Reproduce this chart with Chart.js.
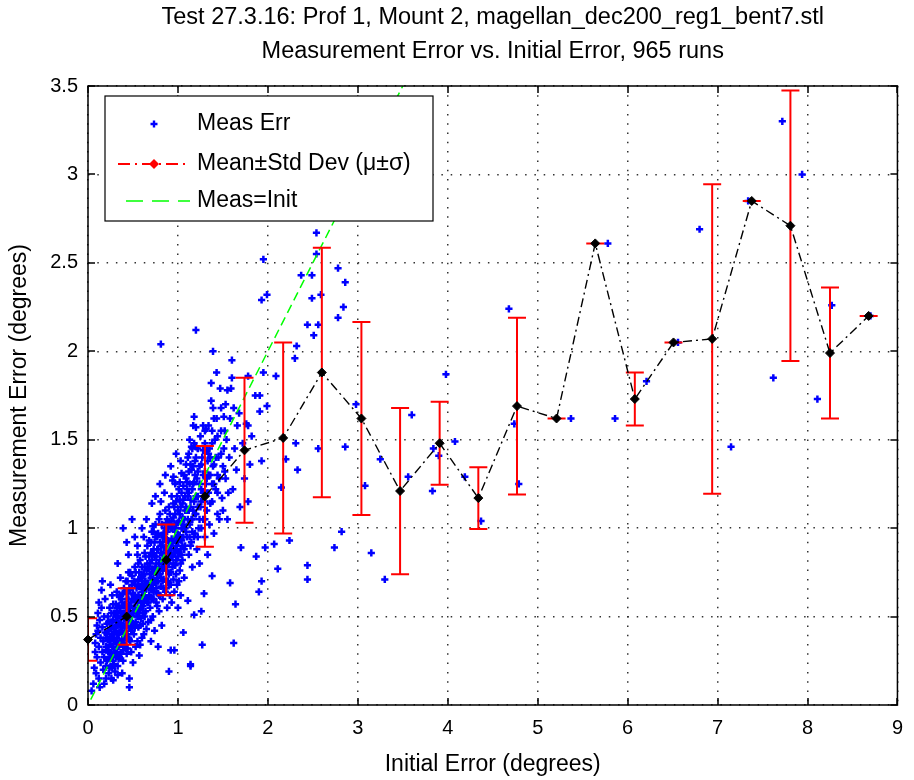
<!DOCTYPE html>
<html>
<head>
<meta charset="utf-8">
<script src="https://cdn.jsdelivr.net/npm/chart.js@4.4.0/dist/chart.umd.min.js"></script>
<style>
  html, body { margin: 0; padding: 0; background: #fff; }
  #wrap { width: 914px; height: 780px; }
</style>
</head>
<body>
<div id="wrap"><canvas id="errChart" width="914" height="780"></canvas></div>
<script>
const titleLines = [
    'Test 27.3.16: Prof 1, Mount 2, magellan_dec200_reg1_bent7.stl',
    'Measurement Error vs. Initial Error, 965 runs',
];
const xTitle = 'Initial Error (degrees)';
const yTitle = 'Measurement Error (degrees)';
const xTicks = [0, 1, 2, 3, 4, 5, 6, 7, 8, 9];
const yTicks = [0, 0.5, 1, 1.5, 2, 2.5, 3, 3.5];
const legendLabels = ['Meas Err', 'Mean\u00b1Std Dev (\u03bc\u00b1\u03c3)', 'Meas=Init'];

// binned statistics (bin centres, mean and one std dev of measurement error)
const binX = [0.00, 0.43, 0.87, 1.30, 1.74, 2.17, 2.60, 3.04, 3.47, 3.91, 4.34, 4.77, 5.21, 5.64, 6.08, 6.51, 6.94, 7.38, 7.81, 8.25, 8.68];
const meanY = [0.37, 0.50, 0.82, 1.18, 1.44, 1.51, 1.88, 1.62, 1.21, 1.48, 1.17, 1.69, 1.62, 2.61, 1.73, 2.05, 2.07, 2.85, 2.71, 1.99, 2.20];
const stdY = [0.12, 0.16, 0.20, 0.285, 0.41, 0.54, 0.705, 0.545, 0.47, 0.235, 0.175, 0.50, 0, 0, 0.15, 0, 0.875, 0, 0.765, 0.37, 0];

// y = x reference
const refLine = [0.03, 3.6];

// individual runs [initial, measured], dense part near the diagonal
const cloudPts = [
    [0.04,0.08],[0.06,0.12],[0.07,0.21],[0.08,0.30],[0.08,0.35],[0.09,0.18],[0.10,0.27],[0.11,0.42],[0.12,0.15],[0.12,0.33],
    [0.13,0.48],[0.14,0.24],[0.14,0.38],[0.15,0.55],[0.16,0.30],[0.16,0.44],[0.17,0.20],[0.17,0.36],[0.18,0.50],[0.18,0.27],
    [0.19,0.41],[0.19,0.60],[0.20,0.15],[0.20,0.33],[0.21,0.46],[0.21,0.25],[0.09,0.40],[0.11,0.52],[0.13,0.10],[0.15,0.65],
    [0.20,0.38],[0.10,0.45],[0.12,0.58],[0.18,0.12],[0.16,0.70],
    [0.22,0.31],[0.23,0.18],[0.23,0.42],[0.24,0.27],[0.24,0.55],[0.25,0.36],[0.25,0.22],[0.26,0.15],[0.26,0.47],[0.27,0.33],
    [0.27,0.62],[0.28,0.25],[0.28,0.40],[0.29,0.52],[0.29,0.30],[0.30,0.19],[0.30,0.44],[0.30,0.36],[0.22,0.50],[0.24,0.38],
    [0.26,0.29],[0.28,0.57],[0.25,0.68],[0.27,0.21],[0.29,0.41],
    [0.31,0.28],[0.31,0.50],[0.32,0.38],[0.32,0.64],[0.33,0.22],[0.33,0.45],[0.34,0.33],[0.34,0.56],[0.35,0.41],[0.35,0.27],
    [0.36,0.49],[0.36,0.72],[0.37,0.36],[0.37,0.60],[0.38,0.18],[0.38,0.44],[0.39,0.52],[0.39,0.31],[0.40,0.40],[0.40,0.66],
    [0.32,0.47],[0.34,0.40],[0.36,0.35],[0.38,0.58],[0.33,0.80],[0.35,0.53],[0.37,0.46],[0.39,0.25],[0.31,0.36],[0.40,0.49],
    [0.41,0.34],[0.41,0.57],[0.42,0.46],[0.42,0.70],[0.43,0.29],[0.43,0.52],[0.44,0.40],[0.44,0.63],[0.45,0.48],[0.45,0.85],
    [0.46,0.10],[0.46,0.15],[0.46,0.37],[0.46,0.56],[0.47,0.44],[0.47,0.75],[0.48,0.51],[0.48,0.30],[0.49,0.60],[0.49,0.42],
    [0.50,0.53],[0.50,0.24],[0.42,0.38],[0.44,0.55],[0.45,0.60],[0.47,0.65],[0.48,0.47],[0.43,0.92],[0.49,0.68],[0.41,0.50],
    [0.44,0.32],[0.50,0.45],[0.39,1.00],[0.49,1.05],[0.52,0.95],
    [0.51,0.62],[0.51,0.40],[0.52,0.55],[0.52,0.78],[0.53,0.47],[0.53,0.33],[0.54,0.66],[0.54,0.52],[0.55,0.58],[0.55,0.90],
    [0.56,0.44],[0.56,0.71],[0.57,0.61],[0.57,0.28],[0.58,0.54],[0.58,0.82],[0.59,0.67],[0.59,0.49],[0.60,0.60],[0.60,0.38],
    [0.61,0.73],[0.61,0.56],[0.62,0.64],[0.62,0.95],[0.63,0.50],[0.63,0.70],[0.64,0.59],[0.64,0.84],[0.65,0.66],[0.65,0.43],
    [0.52,0.68],[0.55,0.36],[0.57,0.75],[0.59,0.58],[0.61,0.46],[0.63,0.78],[0.53,0.60],[0.56,0.52],[0.60,0.70],[0.62,0.52],
    [0.66,0.58],[0.66,0.80],[0.67,0.69],[0.67,0.47],[0.68,0.62],[0.68,0.93],[0.69,0.74],[0.69,0.55],[0.70,0.66],[0.70,0.36],
    [0.71,0.82],[0.71,1.14],[0.71,0.60],[0.72,0.71],[0.72,0.50],[0.73,0.88],[0.73,0.64],[0.74,0.77],[0.74,0.42],[0.75,0.69],
    [0.75,1.02],[0.76,0.58],[0.76,0.84],[0.77,0.72],[0.77,0.95],[0.78,0.63],[0.78,0.33],[0.79,0.80],[0.79,0.53],[0.80,0.74],
    [0.80,1.08],[0.81,0.67],[0.81,0.90],[0.82,0.78],[0.82,0.45],[0.83,0.85],[0.83,0.60],[0.84,0.97],[0.84,0.71],[0.85,0.82],
    [0.85,1.20],[0.86,0.64],[0.86,0.89],[0.87,0.76],[0.87,1.03],[0.88,0.55],[0.88,0.84],[0.89,0.93],[0.89,0.70],[0.90,0.19],
    [0.90,0.80],[0.90,1.12],[0.91,0.62],[0.91,0.88],[0.92,0.31],[0.92,0.75],[0.92,1.00],[0.93,0.84],[0.93,0.58],[0.94,1.27],
    [0.94,0.92],[0.95,0.71],[0.95,1.06],[0.96,0.31],[0.96,0.86],[0.96,0.64],[0.97,0.98],[0.97,0.79],[0.98,1.15],[0.98,0.90],
    [0.99,0.68],[0.98,1.42],[1.00,0.84],[1.00,1.03],[1.00,0.55],[1.01,0.94],[1.01,1.22],[1.02,0.76],[1.02,1.08],[1.03,0.88],
    [1.03,0.62],[1.04,1.00],[1.04,1.31],[1.05,0.82],[1.05,1.14],[1.06,0.41],[1.06,0.95],[1.07,1.05],[1.07,0.72],[1.08,1.18],
    [1.08,0.90],[0.68,0.77],[0.70,0.86],[0.72,0.60],[0.74,0.92],[0.76,0.70],[0.78,0.88],[0.80,0.62],[0.82,0.96],[0.84,0.80],
    [0.86,1.10],[0.88,0.98],[0.90,0.68],[0.92,0.90],[0.94,0.78],[0.96,1.12],[0.98,0.74],[1.00,0.96],[1.02,1.16],[1.04,0.85],
    [1.06,1.24],[0.73,0.98],[0.79,1.05],[0.85,0.95],[0.91,1.02],[0.97,1.25],[1.03,1.38],[0.83,0.70],[0.89,0.82],[0.95,0.88],
    [1.01,0.70],[0.71,0.98],[0.77,0.56],[0.81,1.15],[0.87,0.66],[0.93,1.18],[0.99,0.95],[1.05,1.00],[0.72,1.01],[0.92,1.35],
    [0.95,1.29],
    [1.09,0.98],[1.09,1.28],[1.10,1.10],[1.11,0.59],[1.11,1.40],[1.12,0.85],[1.12,1.20],[1.13,1.02],[1.13,1.50],[1.14,0.22],
    [1.14,1.12],[1.15,0.92],[1.15,1.33],[1.16,1.05],[1.16,0.78],[1.17,1.25],[1.17,1.58],[1.18,0.51],[1.18,1.15],[1.18,1.63],
    [1.19,0.97],[1.19,1.38],[1.20,1.57],[1.20,1.08],[1.20,2.12],[1.21,1.28],[1.21,0.88],[1.22,1.45],[1.22,1.18],[1.23,1.00],
    [1.24,1.35],[1.24,0.80],[1.25,1.12],[1.25,1.52],[1.26,0.53],[1.26,1.22],[1.27,0.34],[1.27,1.40],[1.28,1.05],[1.28,1.30],
    [1.29,0.63],[1.29,1.18],[1.30,1.48],[1.30,0.95],[1.31,1.56],[1.31,1.25],[1.32,1.10],[1.33,1.38],[1.33,0.85],[1.34,1.20],
    [1.35,1.45],[1.35,1.02],[1.36,1.30],[1.38,0.73],[1.37,1.72],[1.37,1.82],[1.38,1.15],[1.39,1.68],[1.39,2.00],[1.39,1.35],
    [1.40,0.97],[1.41,1.50],[1.42,1.22],[1.43,1.62],[1.43,1.88],[1.44,1.08],[1.45,1.40],[1.46,1.28],[1.47,1.79],[1.48,1.55],
    [1.49,1.17],[1.50,1.35],[1.51,1.63],[1.51,1.45],[1.12,1.32],[1.16,1.45],[1.22,0.95],[1.28,1.58],[1.34,1.42],[1.40,1.25],
    [1.46,1.05],[1.14,0.90],[1.20,1.40],[1.26,1.00],[1.32,1.28],[1.38,1.55],[1.44,1.30],[1.50,1.10],[1.10,1.22],[1.18,0.95],
    [1.30,1.15],[1.42,1.40],[1.30,1.55],[1.14,0.23],[0.81,2.04],
];

// core of the band, where the runs overlap most
const corePts = [
    [0.20,0.22],[0.20,0.31],[0.21,0.40],[0.22,0.26],[0.22,0.37],[0.23,0.30],[0.23,0.47],[0.24,0.21],[0.24,0.34],[0.25,0.29],
    [0.25,0.43],[0.26,0.38],[0.26,0.52],[0.27,0.27],[0.27,0.45],[0.28,0.33],[0.28,0.48],[0.29,0.23],[0.29,0.37],[0.30,0.30],
    [0.30,0.52],[0.31,0.42],[0.31,0.57],[0.32,0.30],[0.32,0.55],[0.33,0.36],[0.33,0.50],[0.34,0.26],[0.34,0.46],[0.35,0.34],
    [0.35,0.61],[0.36,0.42],[0.36,0.55],[0.37,0.29],[0.37,0.52],[0.38,0.37],[0.38,0.50],[0.39,0.45],[0.39,0.63],[0.40,0.33],
    [0.40,0.56],[0.41,0.42],[0.41,0.64],[0.42,0.53],[0.42,0.32],[0.43,0.45],[0.43,0.60],[0.44,0.48],[0.44,0.70],[0.45,0.38],
    [0.45,0.55],[0.46,0.44],[0.46,0.66],[0.47,0.53],[0.47,0.36],[0.48,0.58],[0.48,0.42],[0.49,0.50],[0.49,0.73],[0.50,0.46],
    [0.50,0.63],[0.51,0.55],[0.51,0.70],[0.52,0.44],[0.52,0.62],[0.53,0.53],[0.53,0.75],[0.54,0.45],[0.54,0.59],[0.55,0.50],
    [0.55,0.68],[0.56,0.62],[0.56,0.80],[0.57,0.50],[0.57,0.67],[0.58,0.60],[0.58,0.45],[0.59,0.72],[0.59,0.55],[0.60,0.64],
    [0.60,0.78],[0.61,0.52],[0.61,0.67],[0.62,0.58],[0.62,0.74],[0.63,0.62],[0.63,0.86],[0.64,0.53],[0.64,0.70],[0.65,0.60],
    [0.65,0.76],[0.66,0.68],[0.66,0.90],[0.67,0.58],[0.67,0.77],[0.68,0.66],[0.68,0.84],[0.69,0.61],[0.69,0.80],[0.70,0.72],
    [0.70,0.92],[0.71,0.65],[0.71,0.77],[0.72,0.68],[0.72,0.86],[0.73,0.75],[0.73,0.60],[0.74,0.70],[0.74,0.84],[0.75,0.78],
    [0.75,0.95],[0.76,0.66],[0.76,0.80],[0.77,0.74],[0.77,0.88],[0.78,0.70],[0.78,0.97],[0.79,0.76],[0.79,0.62],[0.80,0.82],
    [0.80,0.92],[0.81,0.72],[0.81,0.86],[0.82,0.80],[0.82,1.02],[0.83,0.76],[0.83,0.92],[0.84,0.66],[0.84,0.86],[0.85,0.78],
    [0.85,1.00],[0.86,0.82],[0.86,0.94],[0.87,0.70],[0.87,0.88],[0.88,0.78],[0.88,1.05],[0.89,0.86],[0.89,1.00],[0.90,0.74],
    [0.90,0.92],[0.91,0.82],[0.91,1.08],[0.92,0.86],[0.92,0.68],[0.93,0.94],[0.93,1.04],[0.94,0.84],[0.94,1.00],[0.95,0.80],
    [0.95,1.14],[0.96,0.93],[0.96,1.02],[0.97,0.86],[0.97,1.08],[0.98,0.82],[0.98,1.00],[0.99,0.88],[0.99,1.18],[1.00,0.92],
    [1.00,1.10],[1.01,0.86],[1.01,1.04],[1.02,0.96],[1.02,1.26],[1.03,0.80],[1.03,1.12],[1.04,0.93],[1.04,1.20],[1.05,0.90],
    [1.05,1.06],[1.06,1.02],[1.06,1.16],[1.07,0.88],[1.07,1.30],[1.08,1.00],[1.08,1.10],[1.09,1.12],[1.09,1.36],[1.10,0.95],
    [1.10,1.26],[1.11,1.05],[1.11,1.18],[1.12,1.10],[1.12,1.42],[1.13,0.95],[1.13,1.25],[1.14,1.16],[1.14,1.36],[1.15,1.05],
    [1.15,1.46],[1.16,1.22],[1.16,0.98],[1.17,1.10],[1.17,1.35],[1.18,1.26],[1.18,1.48],[1.19,1.08],[1.19,1.30],[1.20,1.18],
    [1.20,1.46],[1.22,1.12],[1.22,1.32],[1.24,1.25],[1.24,1.05],[1.26,1.36],[1.26,1.15],[1.28,1.20],[1.28,1.44],[1.30,1.32],
    [1.30,1.05],[1.32,1.44],[1.32,1.20],[1.34,1.30],[1.34,1.58],[1.36,1.14],[1.36,1.40],[1.38,1.48],[1.38,1.25],[1.40,1.62],
    [1.40,1.36],[1.44,1.52],[1.44,1.20],[1.48,1.42],[1.48,1.68],[1.52,1.55],[1.52,1.32],[0.60,1.00],[0.65,1.05],[0.75,1.18],
    [0.80,1.25],[0.86,1.30],[0.55,0.85],[0.45,0.75],[0.35,0.62],[0.62,0.40],[0.70,0.48],[0.58,0.34],[0.28,0.14],[0.33,0.17],
];

// sparser runs further out
const outlierPts = [
    [1.53,1.28],[1.54,1.50],[1.55,1.05],[1.57,1.40],[1.58,1.62],[1.61,1.22],[1.63,1.45],[1.65,1.33],[1.66,1.58],[1.69,1.12],
    [1.72,1.48],[1.74,1.28],[1.53,1.70],[1.56,1.20],[1.62,1.68],
    [1.55,1.78],[1.59,1.79],[1.60,1.95],[1.60,1.85],[1.76,1.59],[1.82,1.52],[1.86,1.75],[1.78,1.86],[1.91,1.75],[1.68,1.65],
    [1.91,1.66],[1.78,1.58],[1.93,1.38],[1.80,1.36],[1.78,1.15],[1.70,0.89],[1.87,0.84],[1.58,0.69],[1.64,0.57],[1.62,0.35],
    [1.93,0.70],[1.90,0.64],[1.93,2.29],[1.95,2.52],[1.95,1.88],
    [1.97,0.89],[1.99,1.69],[1.99,2.32],[2.07,0.91],[2.09,1.86],[2.11,0.77],[2.15,1.23],[2.20,1.39],[2.24,0.93],[2.30,1.96],
    [2.31,1.48],[2.32,2.03],[2.33,1.33],[2.37,2.43],
    [2.44,2.15],[2.44,0.71],[2.44,0.79],[2.49,2.43],[2.49,2.30],[2.51,2.09],[2.54,2.67],[2.54,2.55],[2.56,2.15],[2.56,1.45],
    [2.59,2.32],[2.74,0.89],[2.78,2.47],[2.78,2.19],
    [2.82,0.98],[2.84,2.25],[2.86,2.39],[2.86,1.46],[2.98,1.70],[3.08,1.24],[3.15,0.86],[3.25,1.39],
    [3.30,0.71],[3.56,1.29],[3.60,1.64],
    [3.83,1.21],[3.84,1.45],[3.90,1.41],[3.98,1.87],[4.08,1.49],
    [4.19,1.29],[4.37,1.04],
    [4.68,2.24],[4.74,1.59],[4.79,1.25],
    [5.37,1.62],[5.78,2.61],[5.86,1.62],[6.21,1.83],[6.56,2.05],[6.80,2.69],[7.15,1.46],[7.34,2.85],
    [7.62,1.85],[7.72,3.30],[7.94,3.00],[8.11,1.73],[8.27,2.26],[8.70,2.20],
];

const FONT = 'Liberation Sans, Arial, Helvetica, sans-serif';
const TICK_LEN = 7;
const ERR_CAP = 9;

Chart.defaults.font.family = FONT;
Chart.defaults.color = '#000';

// red error bars under the mean line, clipped to the axes
const errorBars = {
    id: 'errorBars',
    beforeDatasetDraw(chart, args) {
        if (args.index !== 1) return;
        const { ctx, chartArea: a, scales: { x, y } } = chart;
        ctx.save();
        ctx.beginPath();
        ctx.rect(a.left, a.top, a.width, a.height);
        ctx.clip();
        ctx.strokeStyle = '#ff0000';
        ctx.lineWidth = 2;
        binX.forEach((bx, i) => {
            const px = x.getPixelForValue(bx);
            const top = y.getPixelForValue(meanY[i] + stdY[i]);
            const bot = y.getPixelForValue(meanY[i] - stdY[i]);
            ctx.beginPath();
            ctx.moveTo(px, top); ctx.lineTo(px, bot);
            ctx.moveTo(px - ERR_CAP, top); ctx.lineTo(px + ERR_CAP, top);
            ctx.moveTo(px - ERR_CAP, bot); ctx.lineTo(px + ERR_CAP, bot);
            ctx.stroke();
        });
        ctx.restore();
    },
};

// box round the plot with inward ticks on all four sides
const axesBox = {
    id: 'axesBox',
    afterDatasetsDraw(chart) {
        const { ctx, chartArea: a, scales: { x, y } } = chart;
        ctx.save();
        ctx.strokeStyle = '#000';
        ctx.lineWidth = 1.5;
        ctx.strokeRect(a.left, a.top, a.width, a.height);
        ctx.beginPath();
        x.ticks.forEach(t => {
            const px = Math.round(x.getPixelForValue(t.value));
            ctx.moveTo(px, a.bottom); ctx.lineTo(px, a.bottom - TICK_LEN);
            ctx.moveTo(px, a.top); ctx.lineTo(px, a.top + TICK_LEN);
        });
        y.ticks.forEach(t => {
            const py = Math.round(y.getPixelForValue(t.value));
            ctx.moveTo(a.left, py); ctx.lineTo(a.left + TICK_LEN, py);
            ctx.moveTo(a.right, py); ctx.lineTo(a.right - TICK_LEN, py);
        });
        ctx.stroke();
        ctx.restore();
    },
};

// legend box in the upper left corner of the axes
const plotLegend = {
    id: 'plotLegend',
    afterDraw(chart) {
        const { ctx, chartArea: a } = chart;
        const bx = a.left + 17, by = a.top + 10, bw = 328, bh = 125;
        const rows = [by + 28, by + 68, by + 105];
        const symX = bx + 49, textX = bx + 92;
        ctx.save();
        ctx.fillStyle = '#fff';
        ctx.fillRect(bx, by, bw, bh);
        ctx.strokeStyle = '#000';
        ctx.lineWidth = 1.2;
        ctx.strokeRect(bx, by, bw, bh);

        // blue plus
        ctx.strokeStyle = '#0000ff';
        ctx.lineWidth = 2.4;
        ctx.beginPath();
        ctx.moveTo(symX - 3.5, rows[0]); ctx.lineTo(symX + 3.5, rows[0]);
        ctx.moveTo(symX, rows[0] - 3.5); ctx.lineTo(symX, rows[0] + 3.5);
        ctx.stroke();

        // red dash-dot with diamond
        ctx.strokeStyle = '#ff0000';
        ctx.lineWidth = 2;
        ctx.setLineDash([12, 5, 2, 5]);
        ctx.beginPath();
        ctx.moveTo(bx + 13, rows[1]); ctx.lineTo(bx + 85, rows[1]);
        ctx.stroke();
        ctx.setLineDash([]);
        ctx.fillStyle = '#ff0000';
        ctx.beginPath();
        ctx.moveTo(symX, rows[1] - 5); ctx.lineTo(symX + 5, rows[1]);
        ctx.lineTo(symX, rows[1] + 5); ctx.lineTo(symX - 5, rows[1]);
        ctx.closePath();
        ctx.fill();

        // green dashes
        ctx.strokeStyle = '#00ff00';
        ctx.lineWidth = 1.5;
        ctx.setLineDash([17, 9]);
        ctx.beginPath();
        ctx.moveTo(bx + 21, rows[2]); ctx.lineTo(bx + 85, rows[2]);
        ctx.stroke();
        ctx.setLineDash([]);

        ctx.fillStyle = '#000';
        ctx.font = '23px ' + FONT;
        ctx.textBaseline = 'middle';
        ctx.textAlign = 'left';
        legendLabels.forEach((lbl, i) => ctx.fillText(lbl, textX, rows[i]));
        ctx.restore();
    },
};

const toXY = pts => pts.map(([x, y]) => ({ x, y }));

new Chart(document.getElementById('errChart'), {
    type: 'scatter',
    data: {
        datasets: [
            {
                label: legendLabels[0],
                data: toXY(cloudPts.concat(corePts, outlierPts)),
                pointStyle: 'cross',
                pointRadius: 3.6,
                borderColor: '#0000ff',
                borderWidth: 2.5,
                order: 3,
            },
            {
                label: legendLabels[1],
                data: binX.map((x, i) => ({ x, y: meanY[i] })),
                showLine: true,
                clip: false,
                borderColor: '#000',
                borderWidth: 1.4,
                borderDash: [9, 4, 2, 4],
                pointStyle: 'rectRot',
                pointRadius: 4.5,
                pointBackgroundColor: '#000',
                pointBorderColor: '#000',
                pointBorderWidth: 1,
                order: 1,
            },
            {
                label: legendLabels[2],
                data: refLine.map(v => ({ x: v, y: v })),
                showLine: true,
                borderColor: '#00ff00',
                borderWidth: 1.5,
                borderDash: [9, 5],
                pointRadius: 0,
                order: 2,
            },
        ],
    },
    options: {
        responsive: false,
        animation: false,
        devicePixelRatio: 1,
        layout: { padding: { left: 0, right: 8, top: 0, bottom: 0 } },
        plugins: {
            legend: { display: false },
            tooltip: { enabled: false },
            title: {
                display: true,
                fullSize: false,
                text: titleLines,
                color: '#000',
                font: { size: 23.5, weight: 'normal', lineHeight: '34px' },
                padding: { top: 1, bottom: 17 },
            },
        },
        scales: {
            x: {
                type: 'linear',
                min: 0,
                max: 9,
                afterBuildTicks: s => { s.ticks = xTicks.map(v => ({ value: v })); },
                afterFit: s => { s.height = 75; },
                grid: { color: '#333', lineWidth: 1.5, drawTicks: false },
                border: { display: false, dash: [1.5, 7.8] },
                ticks: { font: { size: 20 }, color: '#000', padding: 11, maxRotation: 0, callback: v => String(v) },
                title: { display: true, text: xTitle, font: { size: 23 }, color: '#000', padding: { top: 0, bottom: 2 } },
            },
            y: {
                type: 'linear',
                min: 0,
                max: 3.5,
                afterBuildTicks: s => { s.ticks = yTicks.map(v => ({ value: v })); },
                afterFit: s => { s.width = 88; },
                grid: { color: '#333', lineWidth: 1.5, drawTicks: false },
                border: { display: false, dash: [1.5, 7.8] },
                ticks: { font: { size: 20 }, color: '#000', padding: 10, callback: v => String(v) },
                title: { display: true, text: yTitle, font: { size: 23 }, color: '#000', padding: { top: 6, bottom: 0 } },
            },
        },
    },
    plugins: [errorBars, axesBox, plotLegend],
});
</script>
</body>
</html>
